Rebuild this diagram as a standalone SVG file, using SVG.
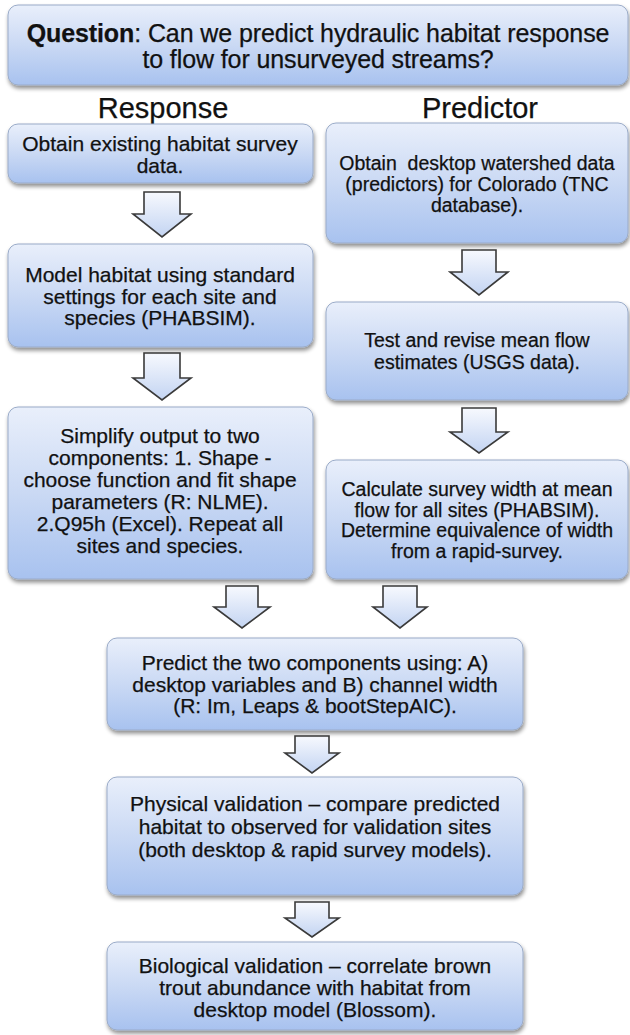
<svg xmlns="http://www.w3.org/2000/svg" width="630" height="1035" viewBox="0 0 630 1035">
<defs>
<linearGradient id="boxg" x1="0" y1="0" x2="0" y2="1">
<stop offset="0" stop-color="#e9effb"/>
<stop offset="0.5" stop-color="#cad9f4"/>
<stop offset="1" stop-color="#a8c2ef"/>
</linearGradient>
<linearGradient id="arrg" x1="0" y1="0" x2="0" y2="1">
<stop offset="0" stop-color="#f7f9fe"/>
<stop offset="1" stop-color="#c3d4f2"/>
</linearGradient>
<filter id="sh" x="-10%" y="-10%" width="120%" height="130%">
<feGaussianBlur in="SourceAlpha" stdDeviation="2"/>
<feOffset dx="1" dy="3" result="b"/>
<feComponentTransfer><feFuncA type="linear" slope="0.45"/></feComponentTransfer>
<feMerge><feMergeNode/><feMergeNode in="SourceGraphic"/></feMerge>
</filter>
</defs>
<style>
.box{fill:url(#boxg);stroke:#9aabc8;stroke-width:1;filter:url(#sh)}
.arr{fill:url(#arrg);stroke:#3a3a3a;stroke-width:1.6;stroke-linejoin:miter}
text{font-family:"Liberation Sans",Arial,sans-serif;fill:#111;stroke:#111;stroke-width:0.25;text-anchor:middle}
.t{font-size:21px}
.r{font-size:19.5px}
.q{font-size:25px;letter-spacing:-0.1px}
.h{font-size:29px}
</style>
<rect width="630" height="1035" fill="#ffffff"/>

<g id="question">
<rect class="box" x="8" y="5" width="620" height="80" rx="10"/>
<text class="q" x="318" y="42"><tspan font-weight="bold">Question</tspan>: Can we predict hydraulic habitat response</text>
<text class="q" x="318" y="68">to flow for unsurveyed streams?</text>
</g>

<g id="heading-response"><text class="h" x="163" y="118">Response</text></g>
<g id="heading-predictor"><text class="h" x="480" y="118">Predictor</text></g>

<g id="connectors">
<path class="arr" d="M144,192 H180 V214 H191 L162,237 L133,214 H144 Z"/>
<path class="arr" d="M144,353 H180 V378 H191 L162,400 L133,378 H144 Z"/>
<path class="arr" d="M462,250 H496 V272 H508 L479,295 L450,272 H462 Z"/>
<path class="arr" d="M462,408 H496 V432 H508 L479,453 L450,432 H462 Z"/>
<path class="arr" d="M226,586 H258 V607 H270 L242,628 L214,607 H226 Z"/>
<path class="arr" d="M383,586 H417 V607 H427 L400,628 L373,607 H383 Z"/>
<path class="arr" d="M295,736 H329 V753 H339 L312,773 L285,753 H295 Z"/>
<path class="arr" d="M295,902 H329 V918 H339 L312,937 L285,918 H295 Z"/>
</g>

<g id="resp1">
<rect class="box" x="8" y="124" width="305" height="59" rx="10"/>
<text class="t" x="160" y="151">Obtain existing habitat survey</text>
<text class="t" x="160" y="173">data.</text>
</g>

<g id="resp2">
<rect class="box" x="8" y="244" width="305" height="103" rx="10"/>
<text class="t" x="160" y="282">Model habitat using standard</text>
<text class="t" x="160" y="303.5">settings for each site and</text>
<text class="t" x="160" y="325">species (PHABSIM).</text>
</g>

<g id="resp3">
<rect class="box" x="8" y="407" width="305" height="172" rx="10"/>
<text class="t" x="160" y="443">Simplify output to two</text>
<text class="t" x="160" y="465">components: 1. Shape -</text>
<text class="t" x="160" y="487">choose function and fit shape</text>
<text class="t" x="160" y="509">parameters (R: NLME).</text>
<text class="t" x="160" y="531">2.Q95h (Excel). Repeat all</text>
<text class="t" x="160" y="553">sites and species.</text>
</g>

<g id="pred1">
<rect class="box" x="326" y="123" width="302" height="120" rx="10"/>
<text class="r" x="477" y="170" xml:space="preserve">Obtain  desktop watershed data</text>
<text class="r" x="477" y="191">(predictors) for Colorado (TNC</text>
<text class="r" x="477" y="212">database).</text>
</g>

<g id="pred2">
<rect class="box" x="326" y="302" width="302" height="98" rx="10"/>
<text class="r" x="477" y="347">Test and revise mean flow</text>
<text class="r" x="477" y="369">estimates (USGS data).</text>
</g>

<g id="pred3">
<rect class="box" x="326" y="460" width="302" height="119" rx="10"/>
<text class="r" x="477" y="496">Calculate survey width at mean</text>
<text class="r" x="477" y="516.5">flow for all sites (PHABSIM).</text>
<text class="r" x="477" y="537">Determine equivalence of width</text>
<text class="r" x="477" y="557.5">from a rapid-survey.</text>
</g>

<g id="predict">
<rect class="box" x="107" y="638" width="416" height="92" rx="10"/>
<text class="t" x="315" y="670">Predict the two components using: A)</text>
<text class="t" x="315" y="692">desktop variables and B) channel width</text>
<text class="t" x="315" y="713">(R: Im, Leaps &amp; bootStepAIC).</text>
</g>

<g id="physical">
<rect class="box" x="107" y="777" width="416" height="118" rx="10"/>
<text class="t" x="315" y="811">Physical validation – compare predicted</text>
<text class="t" x="315" y="834">habitat to observed for validation sites</text>
<text class="t" x="315" y="857">(both desktop &amp; rapid survey models).</text>
</g>

<g id="biological">
<rect class="box" x="107" y="942" width="416" height="88" rx="10"/>
<text class="t" x="315" y="973">Biological validation – correlate brown</text>
<text class="t" x="315" y="995">trout abundance with habitat from</text>
<text class="t" x="315" y="1017">desktop model (Blossom).</text>
</g>
</svg>
